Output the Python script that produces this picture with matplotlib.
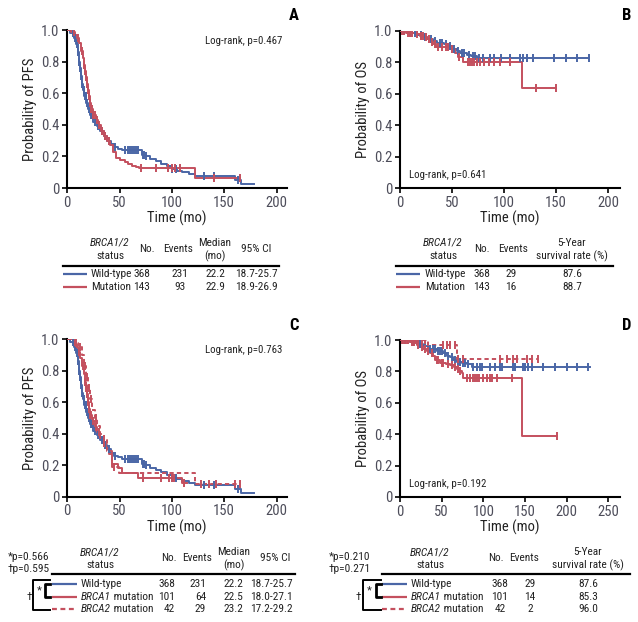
import numpy as np
import matplotlib
matplotlib.use("Agg")
import matplotlib.pyplot as plt
from matplotlib import font_manager as fm

# ---------------- font ----------------
_names = {f.name for f in fm.fontManager.ttflist}
FONT = "Liberation Sans"
for cand in ["Liberation Sans Narrow", "Roboto Condensed", "Open Sans Condensed", "Liberation Sans"]:
    if cand in _names:
        FONT = cand
        break
plt.rcParams["font.family"] = [FONT, "DejaVu Sans"]

BLUE = "#4a66a6"
RED = "#c4505e"
TICKC = "#4d4d5a"

# ---------------- data: PFS ----------------
wt_pfs_t = [0, 3, 6, 8, 10, 11, 12, 13, 14, 15, 16, 18, 20, 22, 25, 28, 31, 35, 38, 42, 45, 48, 52,
            71, 74, 79, 85, 90, 95, 100, 105, 110, 116, 122, 160, 166]
wt_pfs_s = [1.0, 0.98, 0.95, 0.91, 0.86, 0.80, 0.76, 0.71, 0.66, 0.62, 0.58, 0.54, 0.50, 0.46, 0.42,
            0.39, 0.36, 0.33, 0.30, 0.28, 0.26, 0.25, 0.242, 0.21, 0.20, 0.185, 0.17, 0.155, 0.14, 0.12,
            0.11, 0.10, 0.09, 0.075, 0.05, 0.023]
wt_pfs_end = 178
wt_pfs_cens = [5, 7, 9, 10.5, 11.5, 12.5, 13.5, 14.5, 15.5, 16.5, 17.5, 19, 21, 23, 24, 26, 29, 33, 36,
               40, 46, 55, 58, 60, 62, 64, 66, 68, 72, 73, 75, 100, 104, 131, 140, 163]

mut_pfs_t = [0, 4, 7, 9, 11, 13, 15, 16, 17, 18, 19, 20, 21, 22, 23, 25, 27, 29, 32, 35, 38, 41, 44,
             47, 50, 55, 58, 62, 66, 69, 122]
mut_pfs_s = [1.0, 0.99, 0.97, 0.95, 0.92, 0.87, 0.82, 0.78, 0.74, 0.70, 0.66, 0.62, 0.58, 0.54, 0.50,
             0.46, 0.43, 0.40, 0.36, 0.33, 0.30, 0.27, 0.23, 0.19, 0.175, 0.165, 0.15, 0.14, 0.13, 0.125,
             0.063]
mut_pfs_end = 165
mut_pfs_cens = [6, 10, 14, 16, 17, 18, 19, 20, 21, 22, 23, 24, 25, 26, 28, 30, 33, 36, 40, 70, 85, 96,
                100, 103, 108, 140, 165]

b1_pfs_t = [0, 5, 8, 10, 12, 14, 16, 17, 18, 19, 20, 21, 22, 24, 26, 28, 31, 34, 37, 40, 43, 48, 52,
            68, 110]
b1_pfs_s = [1.0, 0.98, 0.95, 0.92, 0.88, 0.83, 0.78, 0.73, 0.69, 0.65, 0.60, 0.56, 0.52, 0.48, 0.44,
            0.41, 0.37, 0.34, 0.31, 0.27, 0.21, 0.18, 0.153, 0.116, 0.085]
b1_pfs_end = 114
b1_pfs_cens = [7, 11, 15, 17, 18, 19, 20, 21, 22, 23, 25, 27, 30, 35, 72, 90, 97, 100, 102, 112]

b2_pfs_t = [0, 6, 10, 14, 16, 18, 20, 22, 24, 26, 28, 31, 35, 38, 43, 49, 122]
b2_pfs_s = [1.0, 0.976, 0.95, 0.90, 0.83, 0.76, 0.69, 0.62, 0.55, 0.50, 0.45, 0.40, 0.36, 0.29, 0.19,
            0.152, 0.08]
b2_pfs_end = 165
b2_pfs_cens = [8, 12, 17, 19, 21, 23, 27, 45, 128, 135, 142, 160, 165]

# ---------------- data: OS (panel B) ----------------
wt_os_t = [0, 8, 16, 22, 26, 32, 36, 42, 46, 51, 55, 58, 64, 68, 74]
wt_os_s = [1.0, 0.99, 0.975, 0.96, 0.947, 0.935, 0.925, 0.915, 0.905, 0.885, 0.87, 0.86, 0.85, 0.84,
           0.825]
wt_os_end = 182
wt_os_cens = [4, 10, 14, 20, 24, 30, 34, 38, 40, 44, 48, 52, 56, 60, 62, 66, 70, 72, 76, 80, 87, 90,
              97, 106, 115, 118, 122, 128, 148, 160, 170, 182]

mut_os_t = [0, 6, 14, 19, 23, 26, 30, 32, 35, 48, 53, 56, 61, 117]
mut_os_s = [1.0, 0.99, 0.98, 0.97, 0.96, 0.95, 0.93, 0.915, 0.895, 0.885, 0.858, 0.835, 0.805, 0.64]
mut_os_end = 150
mut_os_cens = [2, 4, 8, 10, 12, 16, 20, 22, 25, 28, 31, 34, 37, 40, 44, 46, 50, 57, 65, 67, 69, 71,
               74, 77, 81, 86, 90, 96, 106, 131, 150]

# ---------------- data: OS (panel D) ----------------
wtD_os_t = [0, 12, 20, 28, 34, 44, 52, 56, 60, 64, 68, 74, 80, 86]
wtD_os_s = [1.0, 0.99, 0.975, 0.96, 0.945, 0.93, 0.915, 0.90, 0.89, 0.875, 0.862, 0.855, 0.845, 0.826]
wtD_os_end = 228
wtD_os_cens = [6, 16, 24, 30, 36, 40, 42, 46, 48, 50, 54, 58, 62, 66, 70, 72, 76, 78, 82, 88, 92, 96,
               98, 108, 114, 120, 122, 136, 138, 148, 150, 154, 158, 172, 186, 200, 212, 226]

b1_os_t = [0, 12, 20, 24, 28, 32, 36, 39, 42, 48, 55, 60, 65, 68, 71, 74, 76, 146]
b1_os_s = [1.0, 0.99, 0.968, 0.955, 0.94, 0.928, 0.915, 0.895, 0.873, 0.856, 0.848, 0.84, 0.83, 0.814,
           0.80, 0.788, 0.756, 0.386]
b1_os_end = 188
b1_os_cens = [2, 4, 6, 8, 10, 14, 17, 22, 26, 30, 34, 38, 44, 46, 50, 52, 58, 62, 66, 70, 72, 80, 84,
              88, 90, 92, 95, 100, 104, 108, 110, 116, 134, 188]

b2_os_t = [0, 33, 68]
b2_os_s = [1.0, 0.968, 0.877]
b2_os_end = 166
b2_os_cens = [14, 18, 22, 26, 30, 52, 56, 60, 66, 70, 76, 120, 128, 136, 140, 152, 158, 166]

# ---------------- data: tables ----------------
groups_2 = ["Wild-type", "Mutation"]
n_2 = ["368", "143"]
pfs_events_2 = ["231", "93"]
pfs_median_2 = ["22.2", "22.9"]
pfs_ci_2 = ["18.7-25.7", "18.9-26.9"]
os_events_2 = ["29", "16"]
os_5y_2 = ["87.6", "88.7"]

groups_3 = [("", "Wild-type"), ("BRCA1", " mutation"), ("BRCA2", " mutation")]
n_3 = ["368", "101", "42"]
pfs_events_3 = ["231", "64", "29"]
pfs_median_3 = ["22.2", "22.5", "23.2"]
pfs_ci_3 = ["18.7-25.7", "18.0-27.1", "17.2-29.2"]
os_events_3 = ["29", "14", "2"]
os_5y_3 = ["87.6", "85.3", "96.0"]

pvals_C = ["*p=0.566", "\u2020p=0.595"]
pvals_D = ["*p=0.210", "\u2020p=0.271"]
logrank = {"A": "Log-rank, p=0.467", "B": "Log-rank, p=0.641",
           "C": "Log-rank, p=0.763", "D": "Log-rank, p=0.192"}

# ---------------- figure ----------------
W, H = 638, 622
fig = plt.figure(figsize=(W / 100, H / 100), dpi=100)


def ax_at(left, top, right, bottom):
    return fig.add_axes([left / W, 1 - bottom / H, (right - left) / W, (bottom - top) / H])


def km(ax, t, s, end, cens, color, ls="-"):
    tt = list(t) + [end]
    ss = list(s) + [s[-1]]
    ax.step(tt, ss, where="post", color=color, lw=1.4, ls=(0, (2.2, 1.6)) if ls == "--" else "-",
            zorder=3)
    ta = np.asarray(t, dtype=float)
    sa = np.asarray(s, dtype=float)
    cy = [sa[np.searchsorted(ta, c, side="right") - 1] for c in cens]
    ax.plot(cens, cy, ls="none", marker="|", ms=5.5, mew=1.4, color=color, zorder=4)


def style(ax, xmax, xticks, ylabel):
    ax.set_xlim(0, xmax)
    ax.set_ylim(0, 1.0)
    for sp in ["top", "right"]:
        ax.spines[sp].set_visible(False)
    for sp in ["left", "bottom"]:
        ax.spines[sp].set_linewidth(1.5)
        ax.spines[sp].set_color("black")
    ax.set_xticks(xticks)
    ax.set_xticklabels([str(x) for x in xticks])
    ax.set_yticks([0, 0.2, 0.4, 0.6, 0.8, 1.0])
    ax.set_yticklabels(["0", "0.2", "0.4", "0.6", "0.8", "1.0"])
    ax.tick_params(direction="out", length=3.5, width=1.2, labelsize=10.5, labelcolor=TICKC,
                   color="black", pad=2)
    ax.set_xlabel("Time (mo)", fontsize=10.5, color="#222222", labelpad=1)
    ax.set_ylabel(ylabel, fontsize=10.5, color="#222222", labelpad=3)
    for sp in ["left", "bottom"]:
        ax.spines[sp].set_clip_on(False)


axA = ax_at(67.3, 30, 287, 188)
km(axA, wt_pfs_t, wt_pfs_s, wt_pfs_end, wt_pfs_cens, BLUE)
km(axA, mut_pfs_t, mut_pfs_s, mut_pfs_end, mut_pfs_cens, RED)
style(axA, 210, [0, 50, 100, 150, 200], "Probability of PFS")
axA.text(0.98, 0.93, logrank["A"], transform=axA.transAxes, ha="right", va="center", fontsize=7.8,
         color="#222222")

axB = ax_at(400, 31, 620, 188)
km(axB, wt_os_t, wt_os_s, wt_os_end, wt_os_cens, BLUE)
km(axB, mut_os_t, mut_os_s, mut_os_end, mut_os_cens, RED)
style(axB, 211.5, [0, 50, 100, 150, 200], "Probability of OS")
axB.text(0.04, 0.085, logrank["B"], transform=axB.transAxes, ha="left", va="center", fontsize=7.8,
         color="#222222")

axC = ax_at(67.3, 339.3, 287, 496.7)
km(axC, wt_pfs_t, wt_pfs_s, wt_pfs_end, wt_pfs_cens, BLUE)
km(axC, b1_pfs_t, b1_pfs_s, b1_pfs_end, b1_pfs_cens, RED)
km(axC, b2_pfs_t, b2_pfs_s, b2_pfs_end, b2_pfs_cens, RED, ls="--")
style(axC, 210, [0, 50, 100, 150, 200], "Probability of PFS")
axC.text(0.98, 0.93, logrank["C"], transform=axC.transAxes, ha="right", va="center", fontsize=7.8,
         color="#222222")

axD = ax_at(400, 340, 620, 497)
km(axD, wtD_os_t, wtD_os_s, wtD_os_end, wtD_os_cens, BLUE)
km(axD, b1_os_t, b1_os_s, b1_os_end, b1_os_cens, RED)
km(axD, b2_os_t, b2_os_s, b2_os_end, b2_os_cens, RED, ls="--")
style(axD, 264, [0, 50, 100, 150, 200, 250], "Probability of OS")
axD.text(0.04, 0.085, logrank["D"], transform=axD.transAxes, ha="left", va="center", fontsize=7.8,
         color="#222222")

# ---------------- overlay for letters and tables ----------------
ov = fig.add_axes([0, 0, 1, 1])
ov.set_xlim(0, W)
ov.set_ylim(H, 0)
ov.axis("off")
ov.patch.set_alpha(0)

for lab, x, y in [("A", 294, 16), ("B", 627, 16), ("C", 294, 325), ("D", 627, 325)]:
    ov.text(x, y, lab, ha="center", va="center", fontsize=12, fontweight="bold", color="black")

TS = 8.2
TC = "#222222"


def txt(x, y, s, ha="center", style="normal"):
    ov.text(x, y, s, ha=ha, va="center", fontsize=TS, color=TC, style=style)


def legline(x0, x1, y, color, ls="-"):
    ov.plot([x0, x1], [y, y], color=color, lw=1.6, solid_capstyle="butt",
            ls=(0, (2.2, 1.6)) if ls == "--" else "-")


# Table A
txt(110, 243, "BRCA1/2", style="italic"); txt(110, 256, "status")
txt(147, 249, "No."); txt(178, 249, "Events")
txt(215, 243, "Median"); txt(215, 256, "(mo)")
txt(256, 249, "95% CI")
ov.plot([63, 279], [266, 266], color="black", lw=1.6)
for i, y in enumerate([274, 287]):
    legline(63, 87, y, [BLUE, RED][i])
    txt(91, y, groups_2[i], ha="left")
    txt(142, y, n_2[i]); txt(180, y, pfs_events_2[i]); txt(215, y, pfs_median_2[i]); txt(256, y, pfs_ci_2[i])

# Table B
txt(443, 243, "BRCA1/2", style="italic"); txt(443, 256, "status")
txt(482, 249, "No."); txt(513, 249, "Events")
txt(572, 243, "5-Year"); txt(572, 256, "survival rate (%)")
ov.plot([396, 613], [266, 266], color="black", lw=1.6)
for i, y in enumerate([274, 287]):
    legline(396, 420, y, [BLUE, RED][i])
    txt(425, y, groups_2[i], ha="left")
    txt(482, y, n_2[i]); txt(511, y, os_events_2[i]); txt(572, y, os_5y_2[i])


def group_label(x, y, pair):
    it, rest = pair
    if it:
        t1 = ov.text(x, y, it, ha="left", va="center", fontsize=TS, color=TC, style="italic")
        fig.canvas.draw()
        bb = t1.get_window_extent()
        inv = ov.transData.inverted()
        x_end = inv.transform((bb.x1, bb.y0))[0]
        ov.text(x_end, y, rest, ha="left", va="center", fontsize=TS, color=TC)
    else:
        ov.text(x, y, rest, ha="left", va="center", fontsize=TS, color=TC)


rows3 = [584, 597, 609]
colors3 = [BLUE, RED, RED]
ls3 = ["-", "-", "--"]

# Table C
txt(8, 557, pvals_C[0], ha="left"); txt(8, 569, pvals_C[1], ha="left")
txt(100, 552, "BRCA1/2", style="italic"); txt(100, 565, "status")
txt(169, 558, "No."); txt(197, 558, "Events")
txt(234, 552, "Median"); txt(234, 565, "(mo)")
txt(275, 558, "95% CI")
ov.plot([52, 295], [574, 574], color="black", lw=1.6)
for i, y in enumerate(rows3):
    legline(52, 77, y, colors3[i], ls3[i])
    group_label(81, y, groups_3[i])
    txt(175, y, n_3[i], ha="right"); txt(206, y, pfs_events_3[i], ha="right")
    txt(243, y, pfs_median_3[i], ha="right"); txt(293, y, pfs_ci_3[i], ha="right")
# brackets C
ov.plot([50, 33, 33, 50], [580, 580, 610, 610], color="black", lw=1.4)
ov.plot([50, 45, 45, 50], [584, 584, 597, 597], color="black", lw=2.0)
txt(29, 597, "\u2020"); txt(39, 590, "*")

# Table D
txt(329, 557, pvals_D[0], ha="left"); txt(329, 569, pvals_D[1], ha="left")
txt(430, 552, "BRCA1/2", style="italic"); txt(430, 565, "status")
txt(496, 558, "No."); txt(524, 558, "Events")
txt(588, 552, "5-Year"); txt(588, 565, "survival rate (%)")
ov.plot([382, 630], [574, 574], color="black", lw=1.6)
for i, y in enumerate(rows3):
    legline(382, 407, y, colors3[i], ls3[i])
    group_label(411, y, groups_3[i])
    txt(500, y, n_3[i]); txt(530, y, os_events_3[i]); txt(588, y, os_5y_3[i])
# brackets D
ov.plot([381, 363, 363, 381], [580, 580, 610, 610], color="black", lw=1.4)
ov.plot([381, 376, 376, 381], [584, 584, 597, 597], color="black", lw=2.0)
txt(358, 597, "\u2020"); txt(369, 590, "*")

fig.savefig("out.png", dpi=100)
